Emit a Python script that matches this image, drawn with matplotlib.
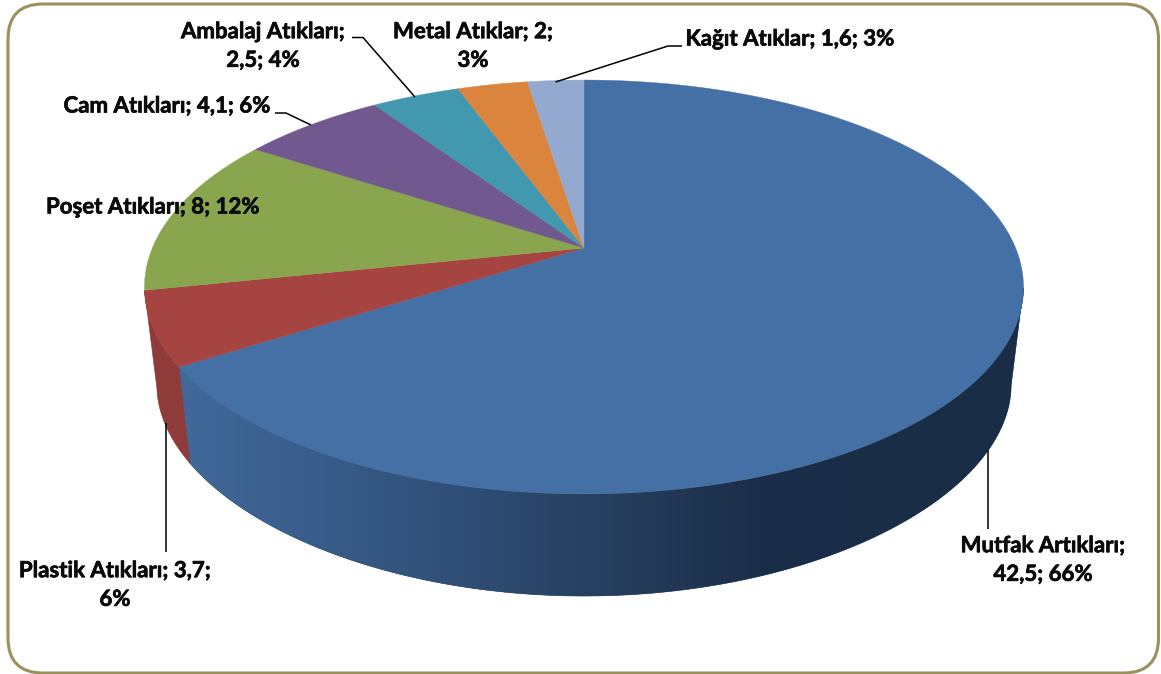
import numpy as np
import matplotlib
matplotlib.use('Agg')
import matplotlib.pyplot as plt
import matplotlib.patheffects as pe
from matplotlib.patches import FancyBboxPatch, Polygon
from matplotlib.colors import to_rgb

# Data
names = ['Mutfak Artıkları', 'Plastik Atıkları', 'Poşet Atıkları', 'Cam Atıkları',
         'Ambalaj Atıkları', 'Metal Atıklar', 'Kağıt Atıklar']
values = [42.5, 3.7, 8, 4.1, 2.5, 2, 1.6]
colors = ['#4570A5', '#A64441', '#89A54E', '#71588F', '#4198AF', '#DB843D', '#93A9CF']
label_text = ['Mutfak Artıkları;\n42,5; 66%', 'Plastik Atıkları; 3,7;\n6%', 'Poşet Atıkları; 8; 12%',
              'Cam Atıkları; 4,1; 6%', 'Ambalaj Atıkları;\n2,5; 4%', 'Metal Atıklar; 2;\n3%',
              'Kağıt Atıklar; 1,6; 3%']

# Layout, in pixels of the picture
label_pos = [(1043, 560), (115, 585), (153, 207), (167, 106), (263, 46), (473, 46), (790, 39)]
leaders = [[(988, 450), (988, 529)],
           [(165.5, 423), (165.5, 552)],
           None,
           [(275, 113), (286, 113), (311, 125)],
           [(352, 37.5), (363, 37.5), (415, 97)],
           None,
           [(682, 46), (668, 46), (555.5, 82)]]

cx = 584
top_y = 248
k_top = 0.1884
a_top = 199.6
b_top = 431.6
bot_y = 348
k_bot = 0.2465
a_bot = 186.9
b_bot = 419.5


def top_xy(theta):
    u, v = np.sin(theta), -np.cos(theta)
    w = 1 - k_top * v
    return cx + b_top * u / w, top_y + a_top * v / w


def bottom_xy(theta):
    u, v = np.sin(theta), -np.cos(theta)
    return cx + b_bot * u / (1 - k_top * v), bot_y + a_bot * v / (1 - k_bot * v)


def wall_outline(t0, t1):
    t = np.linspace(t0, t1, 300)
    xt, yt = top_xy(t)
    xb, yb = bottom_xy(t[::-1])
    return np.column_stack([np.r_[xt, xb], np.r_[yt, yb]])


plt.rcParams['font.family'] = ['Lato', 'DejaVu Sans']

fig = plt.figure(figsize=(11.61, 6.74), dpi=100)
ax = fig.add_axes([0, 0, 1, 1])

frame = FancyBboxPatch((8 + 35, 4 + 35), 1150.5 - 70, 669 - 70,
                       boxstyle='round,pad=35,rounding_size=35',
                       fc='white', ec='#9B9060', lw=2.2, zorder=0)
ax.add_patch(frame)

edges = np.cumsum([0] + values) / sum(values) * 2 * np.pi

# walls first: only the part that faces us, from one widest point to the other
wall_from = np.radians(101)
wall_to = np.radians(259)

# big slice wall gets darker to the right
stops_x = [190, 400, 600, 760, 1030]
stops_c = np.array([to_rgb(c) for c in ['#41689A', '#33557F', '#273F60', '#1B2E49', '#1A2D46']])
xs = np.arange(170, 1031)
grad = np.stack([np.interp(xs, stops_x, stops_c[:, i]) for i in range(3)], axis=1)[None, :, :]

outline = wall_outline(max(edges[0], wall_from), edges[1])
ax.add_patch(Polygon(outline, closed=True, fc='#2A4566', ec='#2A4566', lw=0.4, zorder=1))
im = ax.imshow(grad, extent=[170, 1030, 674, 0], aspect='auto', zorder=1.1)
im.set_clip_path(Polygon(outline, closed=True, transform=ax.transData))

red_wall = wall_outline(edges[1], min(edges[2], wall_to))
ax.add_patch(Polygon(red_wall, closed=True, fc='#8E3B39', ec='#8E3B39', lw=0.4, zorder=1.2))

# top of the pie
for i in range(len(values)):
    t = np.linspace(edges[i], edges[i + 1], 200)
    x, y = top_xy(t)
    ax.fill(np.r_[cx, x], np.r_[top_y, y], color=colors[i], lw=0.3, zorder=2)

for line in leaders:
    if line is None:
        continue
    ax.plot([p[0] for p in line], [p[1] for p in line], color='black', lw=1.1,
            solid_capstyle='butt', zorder=3)

for s, p in zip(label_text, label_pos):
    t = ax.text(p[0], p[1], s, ha='center', va='center', fontsize=16, fontweight='bold',
                color='#0a0a0a', linespacing=1.45, zorder=4)
    t.set_path_effects([pe.withStroke(linewidth=0.5, foreground='#0a0a0a')])

ax.set_xlim(0, 1161)
ax.set_ylim(674, 0)
ax.axis('off')

fig.savefig('out.png', dpi=100)
